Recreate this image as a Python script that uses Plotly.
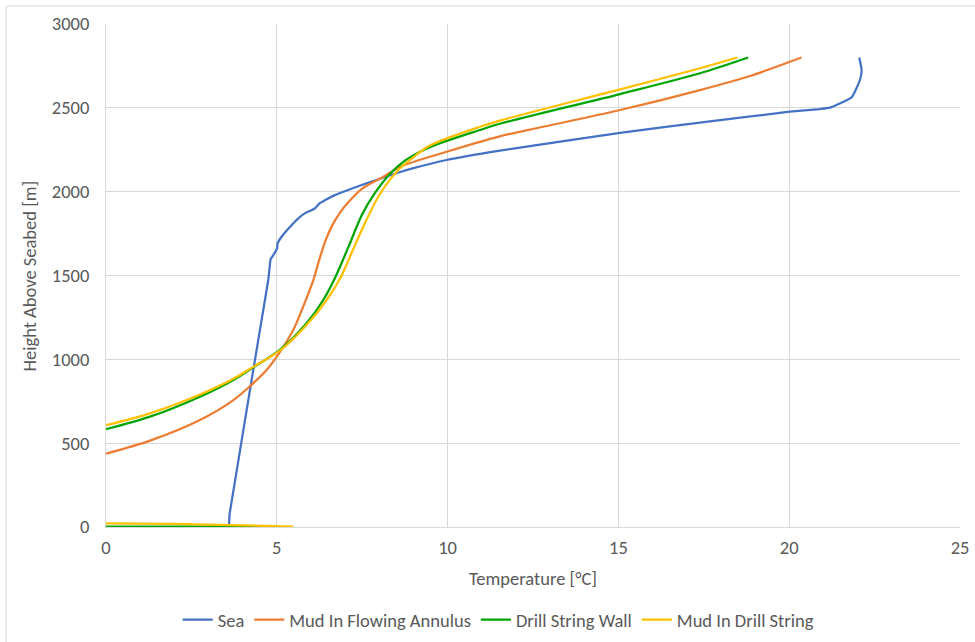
import plotly.graph_objects as go

# Sea
sea_x = [3.60, 3.62, 4.75, 4.82, 4.90, 5.01, 5.02, 5.14, 5.39, 5.63, 5.85, 6.00, 6.12, 6.26, 6.46,
         6.65, 6.85, 7.63, 8.50, 9.00, 9.97, 11.53, 12.41, 15.05, 17.50, 20.02, 20.90, 21.19,
         21.83, 22.07, 22.12, 22.05]
sea_y = [0, 80, 1473, 1597, 1622, 1662, 1690, 1731, 1791, 1841, 1875, 1888, 1901, 1931, 1955,
         1975, 1992, 2050, 2110, 2140, 2189, 2245, 2272, 2350, 2415, 2477, 2493, 2501,
         2563, 2666, 2726, 2800]

# Mud In Flowing Annulus
ann_x = [0.0, 1.29, 2.75, 3.73, 4.22, 4.70, 5.00, 5.48, 5.87, 6.07, 6.26, 6.42, 6.60, 6.85,
         7.10, 7.50, 8.12, 8.61, 9.97, 11.53, 12.41, 15.05, 17.39, 18.85, 20.36]
ann_y = [437, 515, 638, 757, 841, 936, 1016, 1175, 1365, 1473, 1605, 1705, 1790, 1875,
         1938, 2018, 2089, 2149, 2238, 2330, 2370, 2487, 2606, 2690, 2800]

# Drill String Wall
wall_x = [0.0, 1.29, 2.75, 3.73, 4.31, 5.09, 5.87, 6.36, 6.72, 7.10, 7.49, 7.85, 8.31, 8.75,
          9.48, 10.95, 11.53, 15.05, 17.39, 18.80, None, 0.0, 2.5, 4.9]
wall_y = [583, 658, 777, 877, 952, 1056, 1215, 1354, 1493, 1672, 1861, 1985, 2105, 2185,
          2265, 2368, 2405, 2582, 2706, 2800, None, 2, 2, 2]

# Mud In Drill String
str_x = [0.0, 1.29, 2.75, 3.73, 4.31, 5.09, 5.87, 6.46, 6.88, 7.27, 7.60, 8.00, 8.51, 8.90,
         9.48, 10.95, 11.53, 15.05, 17.39, 18.48, None, 0.0, 2.0, 4.0, 5.48]
str_y = [607, 678, 790, 884, 955, 1052, 1205, 1354, 1493, 1672, 1821, 1980, 2119, 2189,
         2275, 2387, 2424, 2610, 2736, 2800, None, 22, 18, 10, 2]

x_ticks = [0, 5, 10, 15, 20, 25]
y_ticks = [0, 500, 1000, 1500, 2000, 2500, 3000]

FONT = "Carlito, Lato, sans-serif"
GRID = "#d9d9d9"
TXT = "#595959"
FS = 18.5

fig = go.Figure()
series = [
    ("Sea", sea_x, sea_y, "#4472C4", 0.4),
    ("Mud In Flowing Annulus", ann_x, ann_y, "#ED7D31", 0.8),
    ("Drill String Wall", wall_x, wall_y, "#00A500", 0.8),
    ("Mud In Drill String", str_x, str_y, "#FFC000", 0.8),
]
for name, xs, ys, col, sm in series:
    fig.add_trace(go.Scatter(x=xs, y=ys, name=name, mode="lines",
                             line=dict(color=col, width=2.25, shape="spline", smoothing=sm),
                             connectgaps=False))

fig.update_layout(
    width=975, height=642,
    margin=dict(l=106, r=15, t=24, b=115, autoexpand=False),
    paper_bgcolor="white", plot_bgcolor="white",
    font=dict(family=FONT, color=TXT, size=FS),
    showlegend=True,
    legend=dict(orientation="h", xref="container", yref="container",
                x=0.511, xanchor="center", y=(642 - 620) / 642, yanchor="middle",
                font=dict(size=FS, color=TXT), itemwidth=30, tracegroupgap=0),
    xaxis=dict(range=[0, 25], tickvals=x_ticks, showgrid=True, gridcolor=GRID, gridwidth=1,
               showline=True, linecolor=GRID, linewidth=1, zeroline=False, automargin=False,
               ticks="outside", ticklen=4, tickcolor="rgba(0,0,0,0)",
               tickfont=dict(size=FS, color=TXT)),
    yaxis=dict(range=[0, 3000], tickvals=y_ticks, showgrid=True, gridcolor=GRID, gridwidth=1,
               showline=True, linecolor=GRID, linewidth=1, zeroline=False, automargin=False,
               ticks="outside", ticklen=12, tickcolor="rgba(0,0,0,0)",
               tickfont=dict(size=FS, color=TXT)),
    annotations=[
        dict(text="Temperature [°C]", xref="paper", yref="paper", x=0.5, y=-0.1014,
             xanchor="center", yanchor="middle", showarrow=False,
             font=dict(size=FS, color=TXT, family=FONT)),
        dict(text="Height Above Seabed [m]", xref="paper", yref="paper", x=-0.089, y=0.5,
             xanchor="center", yanchor="middle", showarrow=False, textangle=-90,
             font=dict(size=FS, color=TXT, family=FONT)),
    ],
    shapes=[
        dict(type="rect", xref="paper", yref="paper", x0=-0.117, x1=1.3, y0=-0.4, y1=1.0358,
             line=dict(color=GRID, width=1), fillcolor="rgba(0,0,0,0)", layer="below"),
    ],
)

fig.write_html("out.html", config={"displayModeBar": False},
               post_script="document.body.style.margin='0';document.body.style.overflow='hidden';")
